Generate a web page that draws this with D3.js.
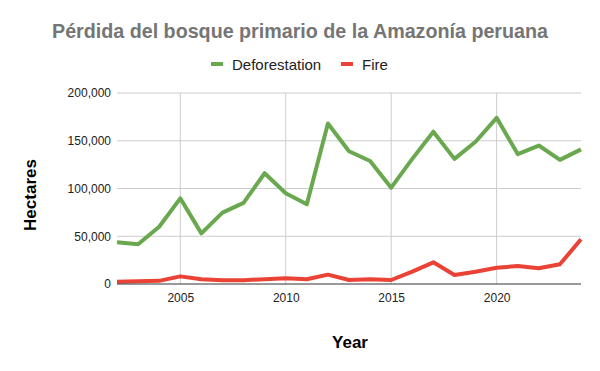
<!DOCTYPE html>
<html><head><meta charset="utf-8">
<script src="https://cdn.jsdelivr.net/npm/d3@7"></script>
<style>body{margin:0;background:#fff}svg{display:block;font-family:"Liberation Sans",Arial,sans-serif}</style>
</head><body>
<script>
const years = d3.range(2002, 2025);
const deforestation = [43700, 41600, 60000, 89700, 53000, 74700, 85000, 116000, 95000, 83500, 168000, 139000, 128800, 100900, 131000, 159500, 131000, 149000, 174000, 136000, 145000, 130000, 141000];
const fire = [2400, 3000, 3300, 8000, 5000, 4000, 4000, 5000, 6000, 5000, 9800, 4200, 5000, 4200, 12900, 22700, 9400, 12900, 17000, 18800, 16400, 20600, 46800];
const yTicks = [0, 50000, 100000, 150000, 200000];
const xTicks = [2005, 2010, 2015, 2020];
const seriesNames = ["Deforestation", "Fire"];
const colors = ["#6aa84f", "#ea4335"];

const W = 600, H = 371;
const m = {l: 117, r: 19, t: 93, b: 87};
const svg = d3.select("body").append("svg").attr("width", W).attr("height", H);
const x = d3.scaleLinear().domain([2002, 2024]).range([m.l, W - m.r]);
const y = d3.scaleLinear().domain([0, 200000]).range([H - m.b, m.t]);

// grid
svg.append("g").selectAll("line").data(yTicks.filter(d => d > 0)).join("line")
  .attr("x1", m.l).attr("x2", W - m.r).attr("y1", d => y(d)).attr("y2", d => y(d))
  .attr("stroke", "#cccccc").attr("stroke-width", 1);
svg.append("g").selectAll("line").data(xTicks).join("line")
  .attr("x1", d => x(d)).attr("x2", d => x(d)).attr("y1", m.t).attr("y2", H - m.b)
  .attr("stroke", "#cccccc").attr("stroke-width", 1);

// axes labels
const fmt = d3.format(",");
const yAxis = d3.axisLeft(y).tickValues(yTicks).tickFormat(fmt).tickSize(0).tickPadding(6);
const gy = svg.append("g").attr("transform", `translate(${m.l},0)`).call(yAxis);
gy.select(".domain").remove();
gy.selectAll("text").attr("font-size", 12).attr("fill", "#222").attr("font-family", "Liberation Sans, Arial, sans-serif");

const xAxis = d3.axisBottom(x).tickValues(xTicks).tickFormat(d3.format("d")).tickSize(0).tickPadding(9);
const gx = svg.append("g").attr("transform", `translate(0,${H - m.b})`).call(xAxis);
gx.select(".domain").remove();
gx.selectAll("text").attr("font-size", 12).attr("fill", "#222").attr("font-family", "Liberation Sans, Arial, sans-serif");

// lines
const series = [deforestation, fire];
const line = d3.line().x((d, i) => x(years[i])).y(d => y(d));
series.forEach((s, k) => {
  svg.append("path").datum(s).attr("d", line).attr("fill", "none")
    .attr("stroke", colors[k]).attr("stroke-width", 4).attr("stroke-linejoin", "round");
});

// baseline
svg.append("line").attr("x1", m.l).attr("x2", W - m.r).attr("y1", y(0)).attr("y2", y(0))
  .attr("stroke", "#333").attr("stroke-width", 1);

// title
svg.append("text").attr("x", 300).attr("y", 38).attr("text-anchor", "middle")
  .attr("font-size", 19.7).attr("font-weight", "bold").attr("fill", "#757575")
  .text("Pérdida del bosque primario de la Amazonía peruana");

// legend
const legX = [211, 341];
seriesNames.forEach((n, k) => {
  svg.append("line").attr("x1", legX[k]).attr("x2", legX[k] + 12).attr("y1", 64).attr("y2", 64)
    .attr("stroke", colors[k]).attr("stroke-width", 4);
  svg.append("text").attr("x", legX[k] + 21).attr("y", 70).attr("font-size", 15).attr("fill", "#222").text(n);
});

// axis titles
svg.append("text").attr("x", 350).attr("y", 348).attr("text-anchor", "middle")
  .attr("font-size", 17).attr("font-weight", "bold").attr("fill", "#000").text("Year");
svg.append("text").attr("transform", "translate(36,195) rotate(-90)").attr("text-anchor", "middle")
  .attr("font-size", 17).attr("font-weight", "bold").attr("fill", "#000").text("Hectares");
</script>
</body></html>
